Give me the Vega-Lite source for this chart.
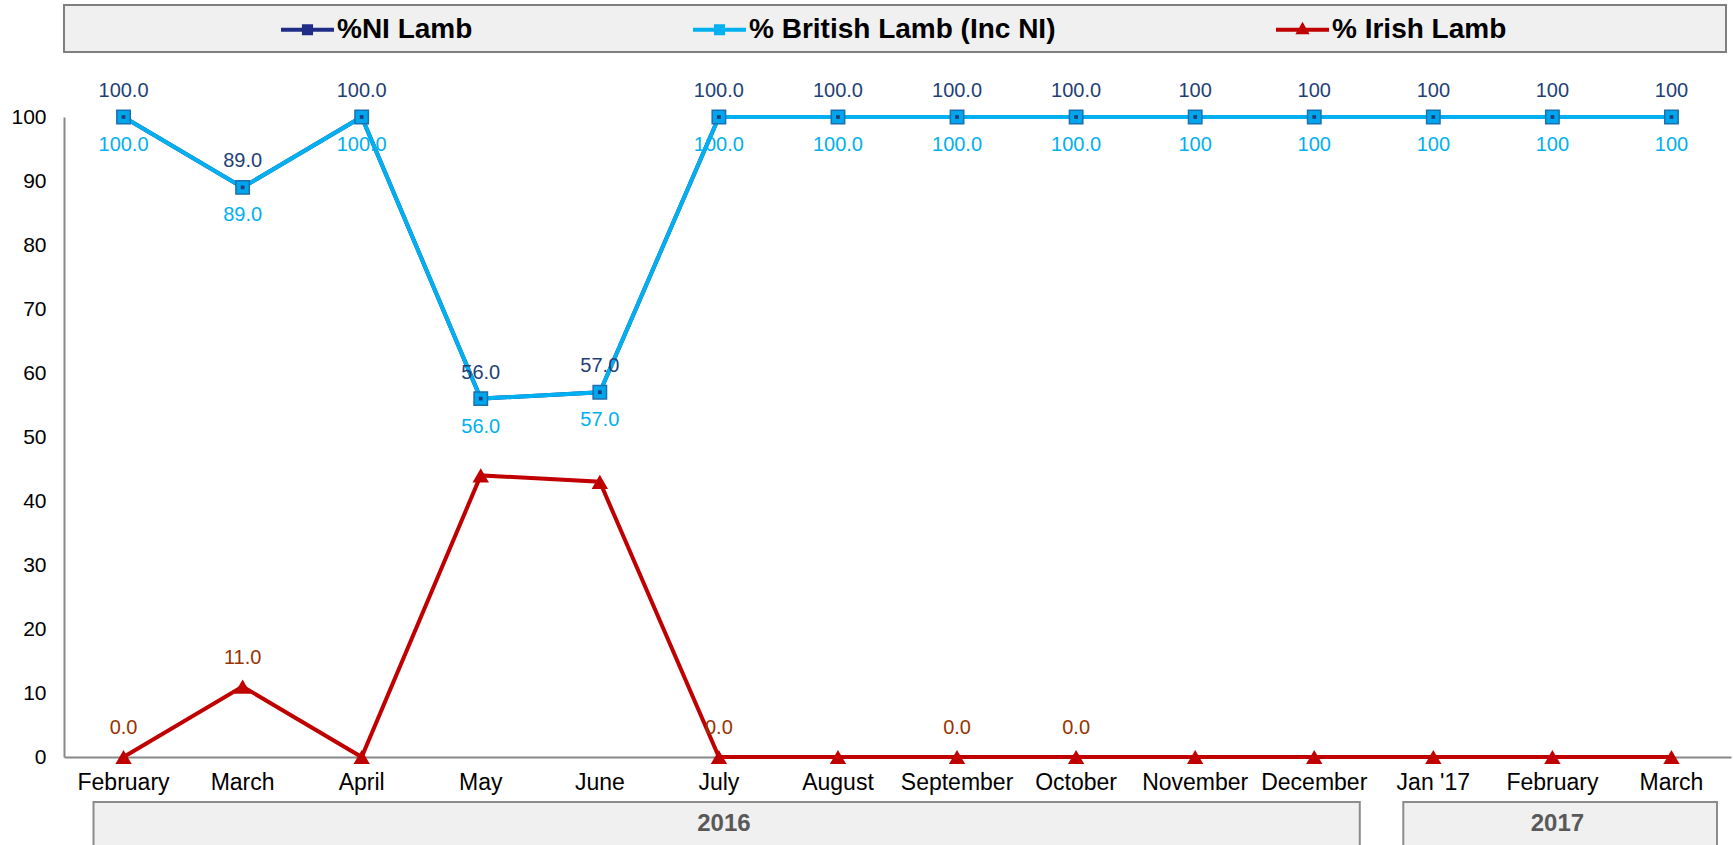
{
  "$schema": "https://vega.github.io/schema/vega-lite/v6.json",
  "background": "white",
  "padding": {"left": 10, "top": 3, "right": 3, "bottom": 1},
  "bounds": "flush",
  "spacing": 65,
  "config": {
    "font": "Liberation Sans",
    "view": {"stroke": null},
    "axis": {"labelFont": "Liberation Sans", "labelColor": "#000000", "grid": false, "ticks": false, "tickSize": 0, "domainColor": "#888888", "domainWidth": 2, "title": null}
  },
  "datasets": {
    "lamb": [
      {"month": "2016-02", "series": "%NI Lamb", "value": 100, "label": "100.0"},
      {"month": "2016-03", "series": "%NI Lamb", "value": 89, "label": "89.0"},
      {"month": "2016-04", "series": "%NI Lamb", "value": 100, "label": "100.0"},
      {"month": "2016-05", "series": "%NI Lamb", "value": 56, "label": "56.0"},
      {"month": "2016-06", "series": "%NI Lamb", "value": 57, "label": "57.0"},
      {"month": "2016-07", "series": "%NI Lamb", "value": 100, "label": "100.0"},
      {"month": "2016-08", "series": "%NI Lamb", "value": 100, "label": "100.0"},
      {"month": "2016-09", "series": "%NI Lamb", "value": 100, "label": "100.0"},
      {"month": "2016-10", "series": "%NI Lamb", "value": 100, "label": "100.0"},
      {"month": "2016-11", "series": "%NI Lamb", "value": 100, "label": "100"},
      {"month": "2016-12", "series": "%NI Lamb", "value": 100, "label": "100"},
      {"month": "2017-01", "series": "%NI Lamb", "value": 100, "label": "100"},
      {"month": "2017-02", "series": "%NI Lamb", "value": 100, "label": "100"},
      {"month": "2017-03", "series": "%NI Lamb", "value": 100, "label": "100"},
      {"month": "2016-02", "series": "% British Lamb (Inc NI)", "value": 100, "label": "100.0"},
      {"month": "2016-03", "series": "% British Lamb (Inc NI)", "value": 89, "label": "89.0"},
      {"month": "2016-04", "series": "% British Lamb (Inc NI)", "value": 100, "label": "100.0"},
      {"month": "2016-05", "series": "% British Lamb (Inc NI)", "value": 56, "label": "56.0"},
      {"month": "2016-06", "series": "% British Lamb (Inc NI)", "value": 57, "label": "57.0"},
      {"month": "2016-07", "series": "% British Lamb (Inc NI)", "value": 100, "label": "100.0"},
      {"month": "2016-08", "series": "% British Lamb (Inc NI)", "value": 100, "label": "100.0"},
      {"month": "2016-09", "series": "% British Lamb (Inc NI)", "value": 100, "label": "100.0"},
      {"month": "2016-10", "series": "% British Lamb (Inc NI)", "value": 100, "label": "100.0"},
      {"month": "2016-11", "series": "% British Lamb (Inc NI)", "value": 100, "label": "100"},
      {"month": "2016-12", "series": "% British Lamb (Inc NI)", "value": 100, "label": "100"},
      {"month": "2017-01", "series": "% British Lamb (Inc NI)", "value": 100, "label": "100"},
      {"month": "2017-02", "series": "% British Lamb (Inc NI)", "value": 100, "label": "100"},
      {"month": "2017-03", "series": "% British Lamb (Inc NI)", "value": 100, "label": "100"},
      {"month": "2016-02", "series": "% Irish Lamb", "value": 0, "label": "0.0"},
      {"month": "2016-03", "series": "% Irish Lamb", "value": 11, "label": "11.0"},
      {"month": "2016-04", "series": "% Irish Lamb", "value": 0, "label": ""},
      {"month": "2016-05", "series": "% Irish Lamb", "value": 44, "label": ""},
      {"month": "2016-06", "series": "% Irish Lamb", "value": 43, "label": ""},
      {"month": "2016-07", "series": "% Irish Lamb", "value": 0, "label": "0.0"},
      {"month": "2016-08", "series": "% Irish Lamb", "value": 0, "label": ""},
      {"month": "2016-09", "series": "% Irish Lamb", "value": 0, "label": "0.0"},
      {"month": "2016-10", "series": "% Irish Lamb", "value": 0, "label": "0.0"},
      {"month": "2016-11", "series": "% Irish Lamb", "value": 0, "label": ""},
      {"month": "2016-12", "series": "% Irish Lamb", "value": 0, "label": ""},
      {"month": "2017-01", "series": "% Irish Lamb", "value": 0, "label": ""},
      {"month": "2017-02", "series": "% Irish Lamb", "value": 0, "label": ""},
      {"month": "2017-03", "series": "% Irish Lamb", "value": 0, "label": ""}
    ],
    "years": [
      {"year": "2016", "start": "2016-02", "end": "2016-12", "mid": "2016-07"},
      {"year": "2017", "start": "2017-01", "end": "2017-03", "mid": "2017-02"}
    ]
  },
  "vconcat": [
    {
      "width": 1667,
      "height": 47,
      "data": {"values": [{"box": "legend"}]},
      "mark": {"type": "rect", "fill": "#F0F0F0", "stroke": "#7F7F7F", "strokeWidth": 2, "xOffset": -5, "x2Offset": -4},
      "encoding": {}
    },
    {
      "bounds": "flush",
      "spacing": 45,
      "resolve": {"scale": {"x": "shared"}},
      "vconcat": [
        {
          "width": 1667,
          "height": 640,
          "data": {"name": "lamb"},
          "encoding": {
            "x": {"field": "month", "type": "ordinal", "sort": "ascending",
              "scale": {"type": "band", "paddingInner": 0, "paddingOuter": 0},
              "axis": {"labelFontSize": 23, "labelPadding": 14, "labelOverlap": false, "labelAngle": 0,
                "labelExpr": "datum.value == '2017-01' ? \"Jan '17\" : timeFormat(toDate(datum.value + '-15'), '%B')"}},
            "y": {"field": "value", "type": "quantitative",
              "scale": {"domain": [0, 100], "nice": false, "zero": true},
              "axis": {"values": [0, 10, 20, 30, 40, 50, 60, 70, 80, 90, 100], "labelFontSize": 21, "labelPadding": 18}}
          },
          "layer": [
            {
              "mark": {"type": "line", "strokeWidth": 4},
              "encoding": {
                "color": {"field": "series", "type": "nominal",
                  "scale": {"domain": ["%NI Lamb", "% British Lamb (Inc NI)", "% Irish Lamb"], "range": ["#1F2D86", "#00B0F0", "#C00000"]},
                  "sort": ["%NI Lamb", "% British Lamb (Inc NI)", "% Irish Lamb"],
                  "legend": {
                    "title": null, "orient": "none", "direction": "horizontal",
                    "legendX": 217, "legendY": -2,
                    "padding": 0, "columnPadding": 220,
                    "symbolSize": 2809, "labelOffset": 3,
                    "labelFont": "Liberation Sans", "labelFontWeight": "bold", "labelFontSize": 28, "labelColor": "#000000", "labelLimit": 600,
                    "encode": {"symbols": {"update": {
                      "shape": {"signal": "datum.value === '% Irish Lamb' ? 'M-1,-0.075L1,-0.075L1,0.075L-1,0.075Z M0,-0.3L0.27,0.17L-0.27,0.17Z' : 'M-1,-0.075L1,-0.075L1,0.075L-1,0.075Z M-0.21,-0.21L0.21,-0.21L0.21,0.21L-0.21,0.21Z'"},
                      "fill": {"signal": "datum.value === '%NI Lamb' ? '#1F2D86' : datum.value === '% Irish Lamb' ? '#C00000' : '#00B0F0'"},
                      "stroke": {"value": "transparent"},
                      "strokeWidth": {"value": 0},
                      "opacity": {"value": 1}
                    }}}
                  }}
              }
            },
            {
              "transform": [{"filter": "datum.series === '% British Lamb (Inc NI)'"}],
              "mark": {"type": "point", "shape": "square", "filled": true, "size": 180, "fill": "#00A6EC", "stroke": "#1C6FB0", "strokeWidth": 1.5, "opacity": 1}
            },
            {
              "transform": [{"filter": "datum.series === '%NI Lamb'"}],
              "mark": {"type": "point", "shape": "square", "filled": true, "size": 14, "fill": "#1F3D7A", "opacity": 1}
            },
            {
              "transform": [{"filter": "datum.series === '% Irish Lamb'"}],
              "mark": {"type": "point", "shape": "triangle-up", "filled": true, "size": 270, "fill": "#C00000", "opacity": 1}
            },
            {
              "transform": [{"filter": "datum.series === '%NI Lamb'"}],
              "mark": {"type": "text", "dy": -26, "fontSize": 20, "color": "#1F3F77", "font": "Liberation Sans"},
              "encoding": {"text": {"field": "label"}}
            },
            {
              "transform": [{"filter": "datum.series === '% British Lamb (Inc NI)'"}],
              "mark": {"type": "text", "dy": 28, "fontSize": 20, "color": "#00B0F0", "font": "Liberation Sans"},
              "encoding": {"text": {"field": "label"}}
            },
            {
              "transform": [{"filter": "datum.series === '% Irish Lamb' && datum.label !== ''"}],
              "mark": {"type": "text", "dy": -29, "fontSize": 20, "color": "#993300", "font": "Liberation Sans"},
              "encoding": {"text": {"field": "label"}}
            }
          ]
        },
        {
          "width": 1667,
          "height": 44,
          "data": {"name": "years"},
          "layer": [
            {
              "mark": {"type": "rect", "fill": "#F0F0F0", "stroke": "#8C8C8C", "strokeWidth": 2, "xOffset": 29.5, "x2Offset": -14},
              "encoding": {
                "x": {"field": "start", "type": "ordinal", "bandPosition": 0, "axis": null},
                "x2": {"field": "end", "bandPosition": 1}
              }
            },
            {
              "mark": {"type": "text", "fontSize": 24, "fontWeight": "bold", "color": "#595959", "font": "Liberation Sans", "dx": 5, "dy": 0},
              "encoding": {
                "x": {"field": "mid", "type": "ordinal", "axis": null},
                "text": {"field": "year"}
              }
            }
          ]
        }
      ]
    }
  ]
}
